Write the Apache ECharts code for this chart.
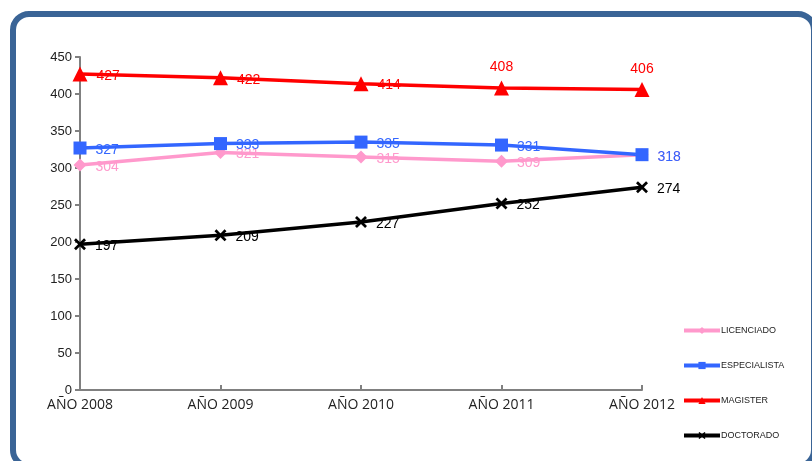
<!DOCTYPE html>
<html>
<head>
<meta charset="utf-8">
<script src="https://cdn.jsdelivr.net/npm/echarts@6/dist/echarts.min.js"></script>
<style>html,body{margin:0;padding:0;background:#fff}#c{width:812px;height:461px}</style>
</head>
<body>
<div id="c"></div>
<script>
const categories = ['AÑO 2008','AÑO 2009','AÑO 2010','AÑO 2011','AÑO 2012'];
const licenciado = [304, 321, 315, 309, 318];
const especialista = [327, 333, 335, 331, 318];
const magister = [427, 422, 414, 408, 406];
const doctorado = [197, 209, 227, 252, 274];
const yTicks = [0, 50, 100, 150, 200, 250, 300, 350, 400, 450];

const X_PATH = 'path://M0,1.6L1.6,0L5,3.4L8.4,0L10,1.6L6.6,5L10,8.4L8.4,10L5,6.6L1.6,10L0,8.4L3.4,5Z';
const labelFont = { fontFamily: 'Liberation Sans, Arial, sans-serif', fontSize: 14 };

function mkSeries(name, data, color, symbol, size, labelPosFn) {
  return {
    name, type: 'line', data: data.map((v, i) => {
      const pos = labelPosFn ? labelPosFn(i) : 'right';
      return { value: v, label: pos === 'top'
        ? { position: 'top', distance: 6 }
        : { position: 'right', distance: 9, offset: [0, 2] } };
    }),
    symbol, symbolSize: size, showAllSymbol: true,
    lineStyle: { color, width: 3.5 },
    itemStyle: { color },
    label: Object.assign({ show: true, color: color, position: 'right' }, labelFont),
    emphasis: { disabled: true }
  };
}

const chart = echarts.init(document.getElementById('c'));
chart.setOption({
  animation: false,
  backgroundColor: '#fff',
  graphic: [{
    type: 'rect', left: 10, top: 11, z: -1,
    shape: { x: 0, y: 0, width: 801, height: 452, r: 16 },
    style: { fill: 'none', stroke: '#3A6496', lineWidth: 6 }
  }],
  grid: { left: 80, top: 57, right: 170, bottom: 71, containLabel: false },
  legend: {
    orient: 'vertical', left: 677, top: 321, itemGap: 26, itemWidth: 36, itemHeight: 9,
    data: ['LICENCIADO', 'ESPECIALISTA', 'MAGISTER', 'DOCTORADO'],
    lineStyle: { width: 4 },
    textStyle: { fontSize: 9, color: '#222', fontFamily: 'Liberation Sans Narrow, Liberation Sans, Arial, sans-serif', padding: [0, 0, 0, -4] }
  },
  xAxis: {
    type: 'category', data: categories, boundaryGap: false,
    axisLine: { lineStyle: { color: '#808080', width: 2 } },
    axisTick: { show: true, inside: true, length: 5, lineStyle: { color: '#808080', width: 2 } },
    axisLabel: { color: '#222', fontSize: 14, fontFamily: 'Open Sans, Liberation Sans, sans-serif', margin: 8 },
    splitLine: { show: false }
  },
  yAxis: {
    type: 'value', min: 0, max: 450, interval: 50,
    axisLine: { show: true, lineStyle: { color: '#808080', width: 2 } },
    axisTick: { show: true, length: 5, lineStyle: { color: '#808080', width: 2 } },
    axisLabel: { color: '#222', fontSize: 13, fontFamily: 'Liberation Sans, Arial, sans-serif', margin: 8,
      formatter: v => yTicks.includes(v) ? String(v) : '' },
    splitLine: { show: false }
  },
  series: [
    mkSeries('LICENCIADO', licenciado, '#FF99CC', 'diamond', 13),
    mkSeries('ESPECIALISTA', especialista, '#3366FF', 'rect', 13),
    mkSeries('MAGISTER', magister, '#FF0000', 'triangle', 15, i => (i >= 3 ? 'top' : 'right')),
    mkSeries('DOCTORADO', doctorado, '#000000', X_PATH, 12)
  ]
});
</script>
</body>
</html>
